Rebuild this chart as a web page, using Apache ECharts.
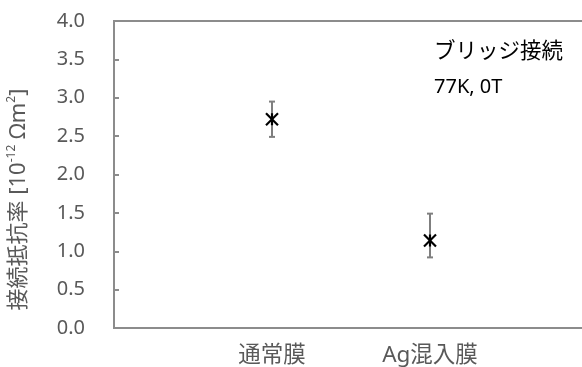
<!DOCTYPE html>
<html>
<head>
<meta charset="utf-8">
<script src="https://cdn.jsdelivr.net/npm/echarts@6/dist/echarts.min.js"></script>
<style>html,body{margin:0;padding:0;background:#fff;overflow:hidden}#c{width:600px;height:367px}</style>
</head>
<body>
<div id="c"></div>
<script>
var categories = ['通常膜', 'Ag混入膜'];
var values = [2.72, 1.14];
var errLow = [2.49, 0.92];
var errHigh = [2.95, 1.49];
var yTicks = [0, 0.5, 1, 1.5, 2, 2.5, 3, 3.5, 4];
var FONT = "'Noto Sans', 'Noto Sans CJK JP', sans-serif";
var GRAY = '#595959';
var LINE = '#8c8c8c';

var data = categories.map(function (c, i) { return [i + 1, values[i], errLow[i], errHigh[i]]; });

var chart = echarts.init(document.getElementById('c'), null, {renderer: 'canvas'});
chart.setOption({
  animation: false,
  backgroundColor: '#fff',
  grid: {left: 114, top: 21, bottom: 39, width: 474, containLabel: false, outerBoundsMode: 'none',
         show: true, borderColor: LINE, borderWidth: 2, backgroundColor: 'transparent'},
  xAxis: {
    type: 'value', min: 0, max: categories.length + 1, interval: 1,
    axisLine: {show: true, lineStyle: {color: LINE, width: 2}},
    axisTick: {show: false},
    splitLine: {show: false},
    axisLabel: {
      margin: 16, color: GRAY, fontSize: 22.5, fontFamily: FONT,
      formatter: function (v) { return categories[v - 1] || ''; }
    }
  },
  yAxis: {
    type: 'value', min: yTicks[0], max: yTicks[yTicks.length - 1], interval: 0.5,
    axisLine: {show: true, lineStyle: {color: LINE, width: 2}},
    axisTick: {show: true, inside: true, length: 5, lineStyle: {color: LINE, width: 2}},
    splitLine: {show: false},
    axisLabel: {margin: 29, color: GRAY, fontSize: 20, fontFamily: FONT, formatter: function (v) { return v.toFixed(1); }},
    name: '接続抵抗率 [10{sup|-12} Ωm{sup|2}]',
    nameLocation: 'middle',
    nameGap: 82,
    nameRotate: 90,
    nameTextStyle: {
      color: GRAY, fontSize: 22, fontFamily: FONT, lineHeight: 26,
      padding: [0, 50, 0, 0],
      rich: {
        sup: {fontSize: 12, lineHeight: 13, verticalAlign: 'top', color: GRAY, fontFamily: FONT}
      }
    }
  },
  graphic: [
    {type: 'text', left: 434, top: 41, style: {text: 'ブリッジ接続', fontSize: 21.5, fill: '#000', fontFamily: FONT}},
    {type: 'text', left: 434, top: 77, style: {text: '77K, 0T', fontSize: 20, fill: '#000', fontFamily: FONT}}
  ],
  series: [{
    type: 'custom',
    data: data,
    encode: {x: 0, y: 1},
    renderItem: function (params, api) {
      var x = api.value(0);
      var c = api.coord([x, api.value(1)]);
      var lo = api.coord([x, api.value(2)]);
      var hi = api.coord([x, api.value(3)]);
      var cap = 3, m = 6;
      var eb = {stroke: '#7f7f7f', lineWidth: 2};
      var mk = {stroke: '#000', lineWidth: 2.2};
      return {
        type: 'group',
        children: [
          {type: 'line', shape: {x1: lo[0], y1: lo[1], x2: hi[0], y2: hi[1]}, style: eb},
          {type: 'line', shape: {x1: hi[0] - cap, y1: hi[1], x2: hi[0] + cap, y2: hi[1]}, style: eb},
          {type: 'line', shape: {x1: lo[0] - cap, y1: lo[1], x2: lo[0] + cap, y2: lo[1]}, style: eb},
          {type: 'line', shape: {x1: c[0] - m, y1: c[1] - m, x2: c[0] + m, y2: c[1] + m}, style: mk},
          {type: 'line', shape: {x1: c[0] - m, y1: c[1] + m, x2: c[0] + m, y2: c[1] - m}, style: mk},
          {type: 'line', shape: {x1: c[0], y1: c[1] - m, x2: c[0], y2: c[1] + m}, style: mk}
        ]
      };
    }
  }]
});
</script>
</body>
</html>
